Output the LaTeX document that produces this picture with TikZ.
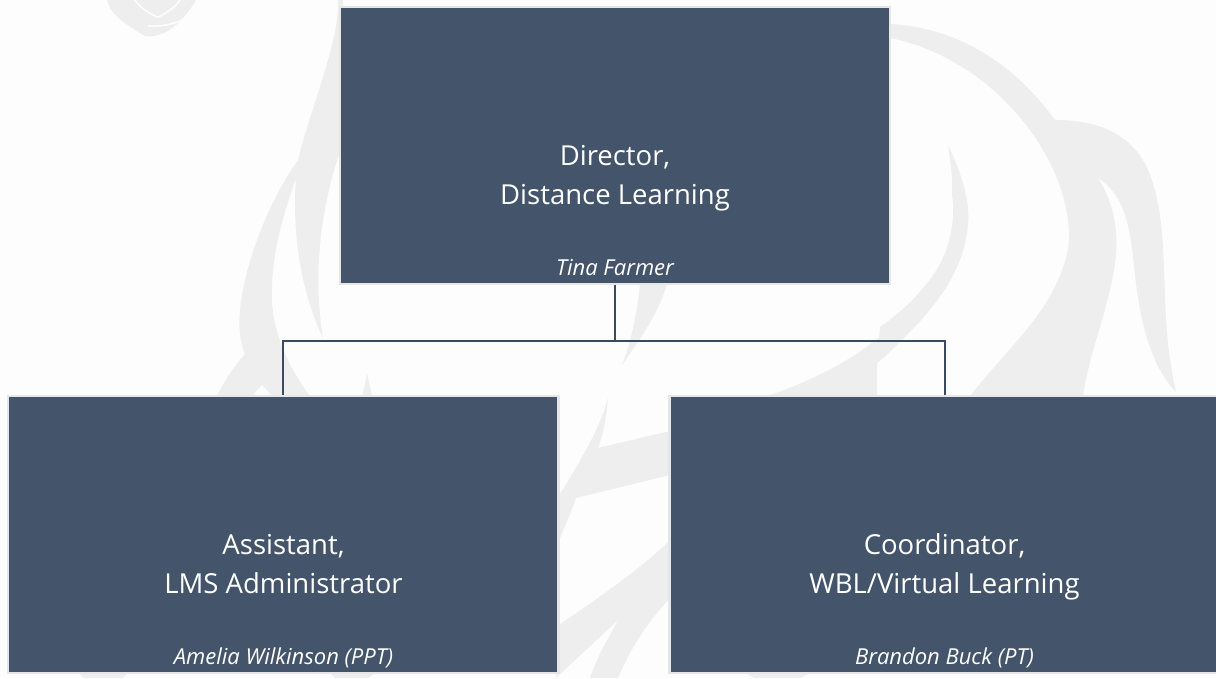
\documentclass[tikz,border=0pt]{standalone}
\usepackage{fontspec}
\setmainfont{Open Sans}
\definecolor{boxfill}{HTML}{44546A}
\definecolor{boxedge}{HTML}{E6E6E6}
\definecolor{linkc}{HTML}{3A4A62}
\definecolor{wm}{HTML}{EEEEEE}
\definecolor{paper}{HTML}{FDFDFD}
\tikzset{orgbox/.style={draw=boxedge,line width=2.7pt,fill=boxfill,inner sep=0pt,minimum height=277pt},
title/.style={text=white,font=\fontsize{27.5}{39}\selectfont,align=center,anchor=center},
person/.style={text=white,font=\fontsize{22}{26}\selectfont\itshape,anchor=base},
link/.style={draw=linkc,line width=2pt},
mark shape/.style={fill=wm,draw=none},
mark gap/.style={fill=paper,draw=none}}
\newcommand{\ttl}[2]{\strut #1\\\strut #2}
\begin{document}
\begin{tikzpicture}[x=1pt,y=-1pt]
\useasboundingbox (0,0) rectangle (1216,678);
\fill[paper] (0,0) rectangle (1216,678);
% watermark: muzzle
\fill[mark shape] (107,0) .. controls (110,12) and (118,20) .. (145,36) .. controls (160,38) and (178,30) .. (196,0) -- cycle;
\draw[paper,line width=1.6pt] (135,0) .. controls (140,8) and (150,14) .. (158,17) .. controls (165,14) and (175,8) .. (180,0);
\draw[paper,line width=1.6pt] (148,26) .. controls (160,27) and (175,24) .. (184,19);
% left long strands
\fill[mark shape] (338,0) .. controls (340,40) and (310,110) .. (298,160) .. controls (270,200) and (245,260) .. (240,310) .. controls (238,330) and (241,345) .. (245,354) .. controls (235,365) and (225,380) .. (217,396) -- (310,396) .. controls (290,370) and (270,330) .. (272,290) .. controls (272,250) and (285,210) .. (296,178) .. controls (292,230) and (300,290) .. (323,338) .. controls (315,290) and (315,220) .. (343,143) -- (343,0) -- cycle;
\fill[mark gap] (252,396) -- (262,385) -- (272,396) -- cycle;
\fill[mark shape] (367,373) -- (372,396) -- (362,396) .. controls (365,385) and (366,380) .. (367,373) -- cycle;
% centre spike below director box
\fill[mark shape] (640,284) .. controls (636,320) and (630,345) .. (622,365) .. controls (640,340) and (660,310) .. (667,284) -- cycle;
% right-hand arc, mane and tail
\fill[mark shape] (890,24) .. controls (960,28) and (1015,65) .. (1055,120) .. controls (1100,120) and (1135,135) .. (1150,175) .. controls (1165,215) and (1163,260) .. (1166,320) .. controls (1168,350) and (1172,375) .. (1176,392) .. controls (1150,365) and (1140,320) .. (1135,275) .. controls (1130,225) and (1125,195) .. (1098,178) .. controls (1115,205) and (1120,235) .. (1114,270) .. controls (1105,320) and (1090,350) .. (1083,396) -- (970,396) .. controls (1010,345) and (1055,310) .. (1068,250) .. controls (1078,170) and (1000,60) .. (890,38) -- cycle;
\fill[mark gap] (1123,275) .. controls (1110,310) and (1104,350) .. (1112,396) -- (1098,396) .. controls (1095,380) and (1098,370) .. (1100,367) .. controls (1102,378) and (1106,390) .. (1118,396) -- (1153,396) .. controls (1135,360) and (1122,320) .. (1123,275) -- cycle;
% inner crescent
\fill[mark shape] (948,145) .. controls (962,175) and (970,200) .. (968,225) .. controls (963,280) and (925,320) .. (877,363) -- (877,396) -- (767,396) .. controls (830,375) and (880,345) .. (920,297) .. controls (940,270) and (958,235) .. (952,195) .. controls (953,175) and (950,160) .. (948,145) -- cycle;
\fill[mark shape] (880,327) .. controls (905,310) and (930,285) .. (945,255) -- (955,262) .. controls (930,310) and (905,340) .. (877,363) -- cycle;
% pieces between the lower boxes
\fill[mark shape] (608,398) .. controls (606,420) and (603,435) .. (598,448) -- (670,431) -- (670,475) -- (576,498) .. controls (570,515) and (563,530) .. (556,548) -- (556,500) .. controls (575,470) and (600,430) .. (608,398) -- cycle;
\fill[mark shape] (670,540) -- (670,598) .. controls (645,625) and (630,650) .. (618,678) -- (590,678) .. controls (600,650) and (608,640) .. (618,620) -- (556,678) -- (556,627) .. controls (595,600) and (640,570) .. (670,540) -- cycle;
% bits under the lower boxes
\fill[mark shape] (78,673) -- (128,673) -- (122,678) -- (84,678) -- cycle;
\fill[mark shape] (330,673) -- (375,673) -- (368,678) -- (335,678) -- cycle;
\fill[mark shape] (745,673) -- (810,673) -- (800,678) -- (755,678) -- cycle;
% boxes
\node[orgbox,minimum width=550pt] (dir) at (615,145.5) {};
\node[orgbox,minimum width=550.5pt] (asst) at (283.25,534.5) {};
\node[orgbox,minimum width=550.5pt] (coord) at (944.65,534.5) {};
% connectors
\coordinate (bus) at ([yshift=-56pt]dir.south);
\draw[link] (dir.south) -- (bus);
\draw[link,line join=miter] (asst.north) |- (bus) -| (coord.north);
% text
\node[title] (t1) at (615,176.7) {\ttl{Director,}{Distance Learning}};
\node[person] (p1) at (615,275) {Tina Farmer};
\node[title] (t2) at (283.5,565.7) {\ttl{Assistant,}{LMS Administrator}};
\node[person] (p2) at (283.5,664) {Amelia Wilkinson (PPT)};
\node[title] (t3) at (944.5,565.7) {\ttl{Coordinator,}{WBL/Virtual Learning}};
\node[person] (p3) at (944.5,664) {Brandon Buck (PT)};
\end{tikzpicture}
\end{document}
